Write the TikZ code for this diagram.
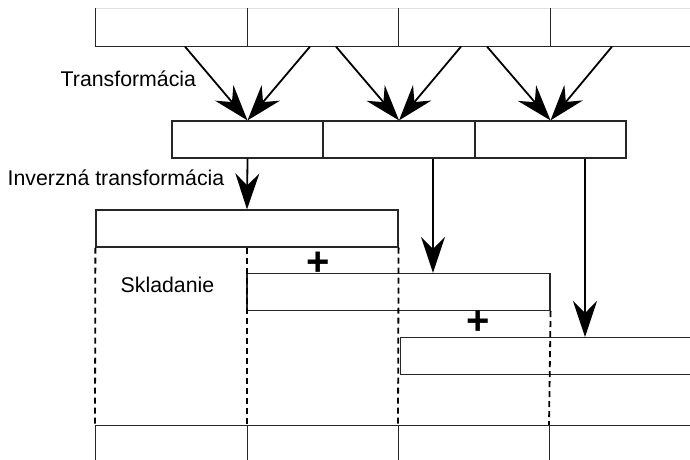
\documentclass[tikz,border=0pt]{standalone}
\usepackage{fontspec}
\setmainfont{Liberation Sans}
\usetikzlibrary{arrows.meta,calc}
\begin{document}
\begin{tikzpicture}[x=1pt,y=-1pt,
  cell/.style={draw=black!85,line width=1.2pt,rectangle,inner sep=0pt,minimum height=37pt},
  bigarrow/.style={line width=1.8pt,-{Stealth[length=36pt,width=24pt,inset=12pt]}},
  guide/.style={line width=1.8pt,dash pattern=on 6pt off 4pt},
  lbl/.style={anchor=base west,inner sep=0pt,font=\fontsize{21.3pt}{24pt}\selectfont},
  plus/.style={anchor=center,inner sep=0pt,font=\bfseries\fontsize{40pt}{45pt}\selectfont}]
\clip (0,0) rectangle (690,460);
\fill[white] (0,0) rectangle (690,460);
% top row
\foreach \i/\x in {1/171.5,2/322.5,3/474,4/625.5}{
  \node[cell,draw=none,minimum width=151.5pt] (t\i) at (\x,27.5) {};
}
\draw[black!12,line width=1pt] (t1.north west) -- (t4.north east);
\draw[black!85,line width=1.2pt] (t1.north west) -- (t1.south west) -- (t4.south east);
\foreach \i in {1,2,3}{\draw[black!85,line width=1.2pt] (t\i.north east) -- (t\i.south east);}
% middle row
\node[cell,minimum width=151pt] (m1) at (247.5,139.5) {};
\node[cell,minimum width=152pt] (m2) at (399,139.5) {};
\node[cell,minimum width=151pt] (m3) at (550.5,139.5) {};
% overlap-add boxes
\node[cell,minimum width=302pt] (b1) at (247,228.5) {};
\node[cell,minimum width=303pt] (b2) at (398.5,292) {};
\node[cell,minimum width=310pt,anchor=north west] (b3) at (400,337) {};
% bottom row
\node[cell,minimum width=152pt,anchor=north west] (c1) at (95,425) {};
\node[cell,minimum width=151pt,anchor=north west] (c2) at (247,425) {};
\node[cell,minimum width=151pt,anchor=north west] (c3) at (398,425) {};
\node[cell,minimum width=151pt,anchor=north west] (c4) at (549,425) {};
% transform arrows
\draw[bigarrow] ([xshift=13.5pt]t1.south) -- (m1.north);
\draw[bigarrow] ([xshift=-12.5pt]t2.south) -- (m1.north);
\draw[bigarrow] ([xshift=13.5pt]t2.south) -- (m2.north);
\draw[bigarrow] ([xshift=-13pt]t3.south) -- (m2.north);
\draw[bigarrow] ([xshift=13pt]t3.south) -- (m3.north);
\draw[bigarrow] ([xshift=-13.5pt]t4.south) -- (m3.north);
% inverse transform arrows
\draw[bigarrow] (m1.south) -- (b1.north);
\draw[bigarrow] ([xshift=34pt]m2.south) -- ([xshift=34pt]m2.south |- b2.north);
\draw[bigarrow] ([xshift=34.5pt]m3.south) -- ([xshift=34.5pt]m3.south |- b3.north);
% dashed guides
\draw[guide] (b1.south west) -- (c1.north west);
\draw[guide] (b1.south) -- (c2.north west);
\draw[guide] (b1.south east) -- (c3.north west);
\draw[guide] (b2.south east) -- (c4.north west);
% labels
\node[lbl] (lt) at (60.5,86) {Transformácia};
\node[lbl] (li) at (7.5,185) {Inverzná transformácia};
\node[lbl] (ls) at (120.5,292) {Skladanie};
\node[plus] (p1) at (318.5,264) {+};
\node[plus] (p2) at (478.5,323) {+};
\end{tikzpicture}
\end{document}
